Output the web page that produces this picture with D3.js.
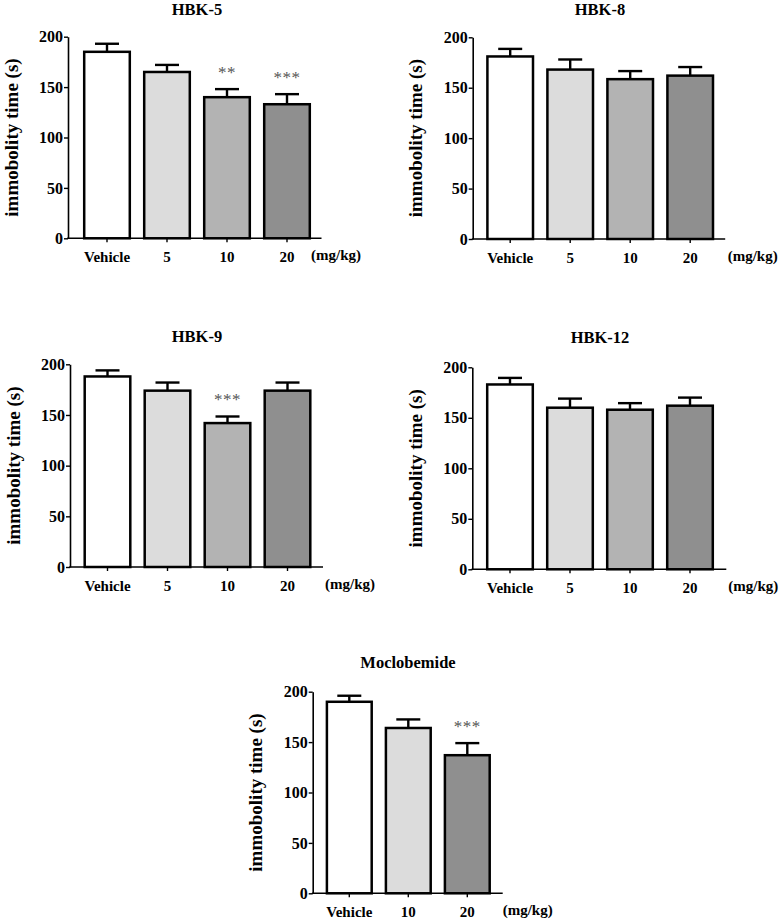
<!DOCTYPE html>
<html>
<head>
<meta charset="utf-8">
<script src="https://cdn.jsdelivr.net/npm/d3@7"></script>
<style>
  html, body { margin: 0; padding: 0; background: #fff; }
  svg { display: block; }
  text { font-family: "Liberation Serif", "Times New Roman", "DejaVu Serif", serif; font-weight: bold; fill: #000; }
</style>
</head>
<body>
<svg id="chart" width="782" height="919"></svg>
<script>
// ---- data ----
const panelTitles = ["HBK-5", "HBK-8", "HBK-9", "HBK-12", "Moclobemide"];
const doseLabels4 = ["Vehicle", "5", "10", "20"];
const doseLabels3 = ["Vehicle", "10", "20"];
const yTicks = [0, 50, 100, 150, 200];
const yLabel = "immobolity time (s)";
const unitLabel = "(mg/kg)";

const hbk5Mean = [185, 165, 140, 133];
const hbk5Sem = [8, 7, 8, 10];
const hbk5Stars = ["", "", "**", "***"];

const hbk8Mean = [181, 168, 158.5, 162];
const hbk8Sem = [7.5, 10, 8, 8.5];
const hbk8Stars = ["", "", "", ""];

const hbk9Mean = [188, 174, 142, 174];
const hbk9Sem = [6, 8, 6.5, 8];
const hbk9Stars = ["", "", "***", ""];

const hbk12Mean = [183, 160, 158, 162];
const hbk12Sem = [6.5, 9, 6.5, 8];
const hbk12Stars = ["", "", "", ""];

const mocloMean = [190, 164, 137];
const mocloSem = [6, 8.5, 12];
const mocloStars = ["", "", "***"];

const fills4 = ["#ffffff", "#dcdcdc", "#b3b3b3", "#8f8f8f"];
const fills3 = ["#ffffff", "#dcdcdc", "#8f8f8f"];

// ---- layout (positions only) ----
const layouts = [
  { x0: 68,    yTop: 36.7,  yBot: 238.3, firstC: 39,   step: 60, axisEnd: 253.5, unitX: 243, titleX: 197, titleY: 14.8 },
  { x0: 472.7, yTop: 37.3,  yBot: 239,   firstC: 37.5, step: 60, axisEnd: 252.5, unitX: 255, titleX: 600, titleY: 14.8 },
  { x0: 70,    yTop: 364.3, yBot: 567,   firstC: 37.5, step: 60, axisEnd: 253,   unitX: 255, titleX: 197, titleY: 341.7 },
  { x0: 472.3, yTop: 367.3, yBot: 569.3, firstC: 37.7, step: 60, axisEnd: 254,   unitX: 256, titleX: 600, titleY: 343.3 },
  { x0: 312.7, yTop: 691.7, yBot: 893.3, firstC: 36.6, step: 59, axisEnd: 190,   unitX: 190, titleX: 408, titleY: 668.3 }
];

const panels = [
  { title: panelTitles[0], cats: doseLabels4, mean: hbk5Mean,  sem: hbk5Sem,  stars: hbk5Stars,  fills: fills4 },
  { title: panelTitles[1], cats: doseLabels4, mean: hbk8Mean,  sem: hbk8Sem,  stars: hbk8Stars,  fills: fills4 },
  { title: panelTitles[2], cats: doseLabels4, mean: hbk9Mean,  sem: hbk9Sem,  stars: hbk9Stars,  fills: fills4 },
  { title: panelTitles[3], cats: doseLabels4, mean: hbk12Mean, sem: hbk12Sem, stars: hbk12Stars, fills: fills4 },
  { title: panelTitles[4], cats: doseLabels3, mean: mocloMean, sem: mocloSem, stars: mocloStars, fills: fills3 }
];

const serif = "'Liberation Serif', 'Times New Roman', 'DejaVu Serif', serif";
const svg = d3.select("#chart");

panels.forEach((p, i) => {
  const L = layouts[i];
  const g = svg.append("g");
  const n = p.cats.length;
  const start = L.x0 + L.firstC - L.step / 2;
  const x = d3.scaleBand().domain(p.cats).range([start, start + n * L.step])
    .paddingInner(0.2).paddingOuter(0.1);
  const y = d3.scaleLinear().domain([0, 200]).range([L.yBot, L.yTop]);

  // title
  g.append("text").attr("x", L.titleX).attr("y", L.titleY)
    .attr("text-anchor", "middle").style("font-size", "16.5px").style("font-family", serif).text(p.title);

  // y axis
  const ya = g.append("g").attr("transform", `translate(${L.x0},0)`)
    .call(d3.axisLeft(y).tickValues(yTicks).tickSize(4).tickSizeOuter(0).tickPadding(1));
  ya.attr("font-family", null);
  ya.select(".domain").attr("stroke", "#000").attr("stroke-width", 1.6);
  ya.selectAll(".tick line").attr("stroke", "#000").attr("stroke-width", 1.4);
  ya.selectAll(".tick text").style("font-size", "16px")
    .style("font-family", serif).style("font-weight", "bold").attr("fill", "#000");

  // y label
  g.append("text")
    .attr("transform", `translate(${L.x0 - 57},${(L.yTop + L.yBot) / 2}) rotate(-90)`)
    .attr("text-anchor", "middle").attr("dy", "0.35em")
    .style("font-size", "19px").style("font-family", serif).text(yLabel);

  // bars
  const data = p.cats.map((c, k) => ({ c, m: p.mean[k], s: p.sem[k], st: p.stars[k], f: p.fills[k] }));
  const bw = x.bandwidth();
  g.selectAll(".err").data(data).enter().append("line")
    .attr("x1", d => x(d.c) + bw / 2).attr("x2", d => x(d.c) + bw / 2)
    .attr("y1", d => y(d.m)).attr("y2", d => y(d.m + d.s))
    .attr("stroke", "#000").attr("stroke-width", 2.4);
  g.selectAll(".cap").data(data).enter().append("line")
    .attr("x1", d => x(d.c) + bw / 2 - 12).attr("x2", d => x(d.c) + bw / 2 + 12)
    .attr("y1", d => y(d.m + d.s)).attr("y2", d => y(d.m + d.s))
    .attr("stroke", "#000").attr("stroke-width", 2.4);
  g.selectAll(".bar").data(data).enter().append("rect")
    .attr("x", d => x(d.c) + 1.2).attr("width", bw - 2.4)
    .attr("y", d => y(d.m)).attr("height", d => y(0) - y(d.m))
    .attr("fill", d => d.f).attr("stroke", "#000").attr("stroke-width", 2.5);

  // stars
  g.selectAll(".star").data(data.filter(d => d.st)).enter().append("text")
    .attr("x", d => x(d.c) + bw / 2).attr("y", d => y(d.m + d.s) - 11)
    .attr("text-anchor", "middle").style("font-size", "17px").style("font-weight", "normal")
    .style("font-family", serif)
    .style("letter-spacing", "0.5px").style("fill", "#555").text(d => d.st);

  // x axis
  const xa = g.append("g").attr("transform", `translate(0,${L.yBot})`)
    .call(d3.axisBottom(x).tickSize(4).tickSizeOuter(0).tickPadding(10));
  xa.attr("font-family", null);
  xa.select(".domain").remove();
  xa.selectAll(".tick line").attr("stroke", "#000").attr("stroke-width", 1.4);
  xa.selectAll(".tick text").attr("dy", null).attr("y", 23.5).style("font-size", "15px")
    .style("font-family", serif).style("font-weight", "bold").attr("fill", "#000");
  g.append("line").attr("x1", L.x0 - 0.8).attr("x2", L.x0 + L.axisEnd)
    .attr("y1", L.yBot).attr("y2", L.yBot).attr("stroke", "#000").attr("stroke-width", 1.6);

  // unit label
  g.append("text").attr("x", L.x0 + L.unitX).attr("y", L.yBot + 21.5)
    .style("font-size", "15px").style("font-family", serif).text(unitLabel);
});
</script>
</body>
</html>
